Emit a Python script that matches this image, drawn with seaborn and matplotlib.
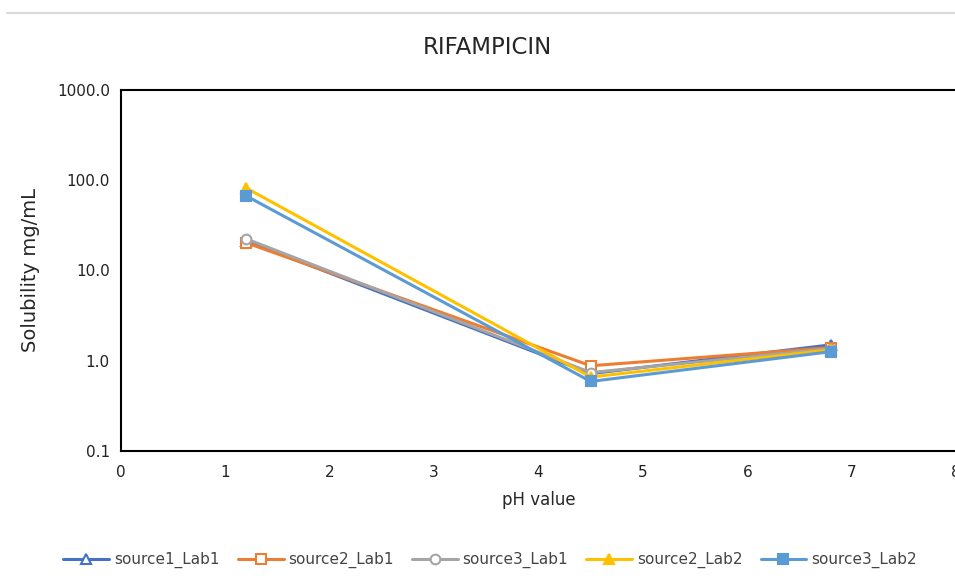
import matplotlib
matplotlib.use("Agg")
import matplotlib.pyplot as plt
import seaborn as sns
import pandas as pd
from matplotlib.lines import Line2D

ph = [1.2, 4.5, 6.8]
series_names = ["source1_Lab1", "source2_Lab1", "source3_Lab1", "source2_Lab2", "source3_Lab2"]
source1_Lab1 = [21.3, 0.72, 1.50]
source2_Lab1 = [20.3, 0.88, 1.40]
source3_Lab1 = [22.4, 0.74, 1.36]
source2_Lab2 = [82.0, 0.66, 1.32]
source3_Lab2 = [67.0, 0.59, 1.26]
values = [source1_Lab1, source2_Lab1, source3_Lab1, source2_Lab2, source3_Lab2]
colors = ["#4472C4", "#ED7D31", "#A5A5A5", "#FFC000", "#5B9BD5"]
markers = ["^", "s", "o", "^", "s"]
filled = [False, False, False, True, True]
xticks = [0, 1, 2, 3, 4, 5, 6, 7, 8]
yticks = [0.1, 1, 10, 100, 1000]
ytick_labels = ["0.1", "1.0", "10.0", "100.0", "1000.0"]

rows = []
for name, vals in zip(series_names, values):
    for x, v in zip(ph, vals):
        rows.append({"pH": x, "sol": v, "series": name})
df = pd.DataFrame(rows)

sns.set_style("white")
plt.rcParams['font.family'] = ['DejaVu Sans']

W, H = 955, 581
fig = plt.figure(figsize=(W / 100, H / 100), dpi=100)
ax = fig.add_axes([121 / W, 1 - 451 / H, 835 / W, (451 - 90) / H])

for name, c, m, f in zip(series_names, colors, markers, filled):
    sub = df[df.series == name]
    sns.lineplot(data=sub, x="pH", y="sol", ax=ax, color=c, lw=2.2,
                 marker=m, markersize=7,
                 markerfacecolor=c if f else "white",
                 markeredgecolor=c, markeredgewidth=1.5, legend=False,
                 sort=False)

ax.set_yscale("log")
ax.set_ylim(0.1, 1000)
ax.set_xlim(0, 8)
ax.set_xticks(xticks)
ax.set_xticklabels([str(t) for t in xticks], fontsize=11, color="#222222")
ax.set_yticks(yticks)
ax.set_yticklabels(ytick_labels, fontsize=11, color="#222222")
ax.minorticks_off()
ax.tick_params(axis="both", length=0, pad=8)
ax.tick_params(axis="x", pad=10)
for s in ax.spines.values():
    s.set_color("black")
    s.set_linewidth(1.5)
ax.spines["right"].set_visible(False)
ax.set_xlabel("pH value", fontsize=12, labelpad=8)
ax.set_ylabel("Solubility mg/mL", fontsize=14, labelpad=12)
ax.grid(False)

fig.text(487 / W, 1 - 47 / H, "RIFAMPICIN", ha="center", va="center", fontsize=16.5)
fig.add_artist(Line2D([7 / W, 1], [1 - 13 / H, 1 - 13 / H], color="#D9D9D9", lw=1.5))

handles = [Line2D([], [], color=c, lw=2.2, marker=m, markersize=7,
                  markerfacecolor=c if f else "white", markeredgecolor=c, markeredgewidth=1.5)
           for c, m, f in zip(colors, markers, filled)]
fig.legend(handles, series_names, loc="center", bbox_to_anchor=(490 / W, 1 - 560 / H),
           ncol=5, frameon=False, fontsize=11, handlelength=3, columnspacing=1.2,
           handletextpad=0.3, labelcolor="#444444")

fig.savefig("out.png", dpi=100, facecolor="white")
